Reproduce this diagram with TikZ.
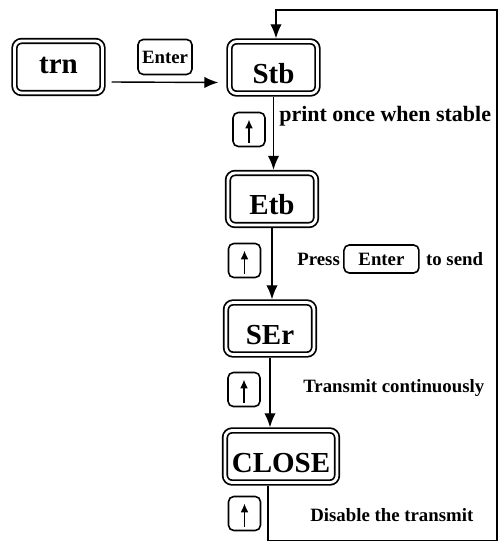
\documentclass[tikz,border=0pt]{standalone}
\usepackage{fontspec}
\setmainfont{Liberation Serif}
\usepackage{tikz}
\usetikzlibrary{positioning, arrows.meta}

\tikzset{
    menubox/.style={draw, line width=1pt, double, double distance=1.6pt, outer sep=1.8pt,
        rounded corners=4pt, minimum width=1.76cm, minimum height=1.04cm, inner sep=2pt,
        text height=18pt, text depth=0pt, font=\bfseries\fontsize{16.5}{18}\selectfont},
    keybox/.style={draw, line width=0.9pt, rounded corners=3pt, outer sep=0.45pt, inner sep=0pt,
        font=\bfseries\fontsize{10.7}{12}\selectfont},
    upkey/.style={keybox, minimum width=0.64cm, minimum height=0.68cm},
    note/.style={inner sep=0pt, anchor=west, font=\bfseries\fontsize{10.7}{12}\selectfont},
    flow/.style={line width=0.8pt, -{Latex[length=8pt,width=6.5pt]}},
}

\begin{document}
\begin{tikzpicture}[x=0.02cm, y=-0.02cm]
    \useasboundingbox (0,0) rectangle (501,542);

    % menu states
    \node[menubox, text height=7pt] (trn) at (58.5,67) {trn};
    \node[menubox] (stb) at (273.5,67.5) {Stb};
    \node[menubox] (etb) at (272,199) {Etb};
    \node[menubox] (ser) at (270,328.5) {SEr};
    \node[menubox, minimum width=2.24cm] (close) at (281,456.5) {CLOSE};

    \coordinate (topright) at (497,10);

    \path[draw, flow] ([xshift=0.12cm, yshift=-0.3cm]trn.east) -- ([xshift=-0.16cm, yshift=-0.3cm]stb.west)
        node[keybox, midway, above=0.14cm, minimum width=1.08cm, minimum height=0.7cm] (enter) {Enter};
    \path[draw, flow] (stb.south) -- (stb.south |- etb.north);
    \path[draw, flow] (etb.south) -- (etb.south |- ser.north);
    \path[draw, flow] (ser.south) -- (ser.south |- close.north);
    \path[draw, flow] ([xshift=-0.26cm]close.south) -- ++(0,55) -| (topright) -| ([xshift=0.05cm]stb.north);

    % up keys
    \foreach \name/\x/\y in {up1/249/129.5, up2/244.5/260.5, up3/244/389.5, up4/244.5/513.5} {
        \node[upkey] (\name) at (\x,\y) {};
        \path[draw, line width=0.9pt, -{Latex[length=5pt,width=4.5pt]}] (\name.center) ++(0,13) -- ++(0,-23);
    }

    \node[note, font=\bfseries\fontsize{12.5}{14}\selectfont] (stable) at (279,116) {print once when stable};
    \node[note] (press) at (297,259) {Press};
    \node[keybox, right=0.06cm of press, minimum width=1.5cm, minimum height=0.56cm] (enter2) {Enter};
    \node[note, right=0.12cm of enter2] (send) {to send};
    \node[note] (trans) at (303,388.5) {Transmit continuously};
    \node[note] (disable) at (310,515) {Disable the transmit};
\end{tikzpicture}
\end{document}
